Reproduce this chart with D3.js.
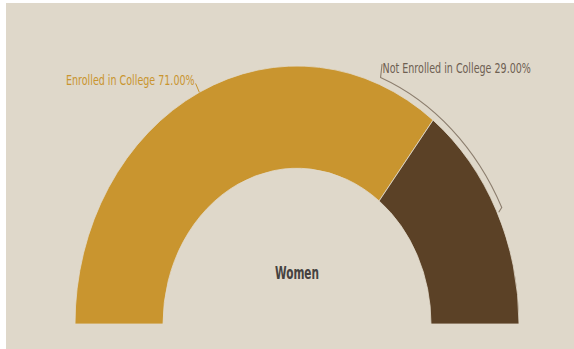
<!DOCTYPE html>
<html>
<head>
<meta charset="utf-8">
<script src="https://cdn.jsdelivr.net/npm/d3@7"></script>
<style>
  html, body { margin: 0; padding: 0; background: #ffffff; }
  svg { display: block; }
  text { font-family: "Liberation Sans Narrow", "Arial Narrow", "DejaVu Sans Condensed", sans-serif; }
</style>
</head>
<body>
<svg id="chart" width="574" height="349"></svg>
<script>
// Enrollment share for women
const categories = ["Enrolled in College", "Not Enrolled in College"];
const values = [71, 29];
const sliceColors = ["#c9952f", "#5b4126"];
const labelColors = ["#c9952f", "#6e6052"];
const centerTitle = "Women";

const W = 574, H = 349;
const cx = 297, cy = 324;          // centre of the half ring
const outerR = 222, innerR = 134;  // horizontal radii
const sy = 258 / 222;              // vertical stretch of the ring
const textSqueeze = 0.885;         // condensed look for labels

const svg = d3.select("#chart");

// panel
svg.append("rect")
  .attr("x", 6).attr("y", 3)
  .attr("width", W - 6).attr("height", H - 3)
  .attr("fill", "#dfd8ca");

const g = svg.append("g")
  .attr("transform", `translate(${cx},${cy}) scale(1,${sy})`);

const data = categories.map((c, i) => ({ name: c, value: values[i], i }));

const pie = d3.pie()
  .value(d => d.value)
  .sort(null)
  .startAngle(-Math.PI / 2)
  .endAngle(Math.PI / 2);

const arc = d3.arc().innerRadius(innerR).outerRadius(outerR);
const arcs = pie(data);

g.selectAll("path.slice")
  .data(arcs)
  .join("path")
  .attr("class", "slice")
  .attr("d", arc)
  .attr("fill", d => sliceColors[d.data.i])
  .attr("stroke", "#e2dacb")
  .attr("stroke-width", 0.8)
  .attr("vector-effect", "non-scaling-stroke");

// polar helper (angle clockwise from 12 o'clock)
const pt = (r, a) => [r * Math.sin(a), -r * Math.cos(a)];
const deg = Math.PI / 180;
const fmt = d => `${d.data.name} ${d.data.value.toFixed(2)}%`;
const midA = d => (d.startAngle + d.endAngle) / 2;

// text placed at (x, y) and squeezed horizontally
function label(x, y, kx) {
  return g.append("text")
    .attr("transform", `translate(${x},${y}) scale(${kx},1)`);
}

// first slice: short straight leader, label ending at its tip
{
  const d = arcs[0];
  const a = midA(d);
  const p0 = pt(outerR, a), p1 = pt(outerR + 8.5, a);
  g.append("path")
    .attr("d", d3.line()([p0, p1]))
    .attr("fill", "none")
    .attr("stroke", labelColors[0])
    .attr("stroke-width", 1)
    .attr("vector-effect", "non-scaling-stroke");
  label(p1[0] - 1, p1[1] + 1.5, textSqueeze)
    .attr("text-anchor", "end")
    .attr("font-size", 12)
    .attr("fill", labelColors[0])
    .text(fmt(d));
}

// second slice: leader that follows the ring up to a label above it
{
  const d = arcs[1];
  const a = midA(d);
  const bracketR = outerR + 6;
  const labelA = 21.5 * deg;
  const tip = pt(outerR + 1.5, a + 0.6 * deg);
  const start = pt(bracketR, a);
  const end = pt(bracketR, labelA);
  const top = [end[0] + 1.5, end[1] - 11.5];
  const p = d3.path();
  p.moveTo(tip[0], tip[1]);
  p.lineTo(start[0], start[1]);
  p.arc(0, 0, bracketR, a - Math.PI / 2, labelA - Math.PI / 2, true);
  p.lineTo(top[0], top[1]);
  g.append("path")
    .attr("d", p.toString())
    .attr("fill", "none")
    .attr("stroke", "#8c7e6e")
    .attr("stroke-width", 1.1)
    .attr("vector-effect", "non-scaling-stroke");
  label(top[0] + 0.5, top[1] + 7.5, textSqueeze)
    .attr("text-anchor", "start")
    .attr("font-size", 12)
    .attr("fill", labelColors[1])
    .text(fmt(d));
}

// centre title
label(0, -39, 0.78)
  .attr("text-anchor", "middle")
  .attr("font-size", 15)
  .attr("font-weight", "bold")
  .attr("fill", "#454240")
  .text(centerTitle);
</script>
</body>
</html>
